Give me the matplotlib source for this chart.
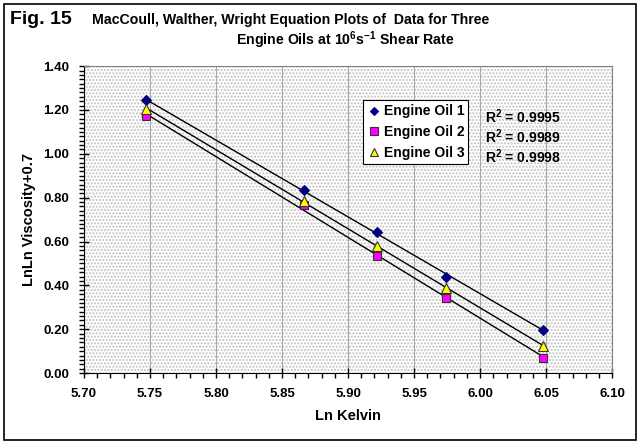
import numpy as np
import matplotlib
matplotlib.use('Agg')
import matplotlib.pyplot as plt
from matplotlib.patches import Rectangle
from matplotlib.ticker import MultipleLocator, FormatStrFormatter

plt.rcParams['font.family'] = ['Liberation Sans', 'DejaVu Sans']
plt.rcParams['mathtext.fontset'] = 'custom'
plt.rcParams['mathtext.rm'] = 'Liberation Sans'
plt.rcParams['mathtext.bf'] = 'Liberation Sans:bold'
plt.rcParams['hatch.linewidth'] = 1.0

# Ln of temperature in Kelvin (40, 80, 100, 120, 150 C)
ln_kelvin = [5.7467, 5.8669, 5.9220, 5.9742, 6.0476]
oil1 = [1.245, 0.835, 0.643, 0.440, 0.198]
oil2 = [1.172, 0.765, 0.532, 0.344, 0.070]
oil3 = [1.205, 0.787, 0.580, 0.389, 0.123]
oil_names = ['Engine Oil 1', 'Engine Oil 2', 'Engine Oil 3']
r2_labels = ['0.9995', '0.9989', '0.9998']

fig = plt.figure(figsize=(6.41, 4.41), dpi=100)
ax = fig.add_axes([0.131, 0.154, 0.824, 0.696])

# dotted grey plot area
ax.set_facecolor('white')
ax.add_patch(Rectangle((0, 0), 1, 1, transform=ax.transAxes, facecolor='white',
                       edgecolor='#c0c0c0', hatch='.....', linewidth=0, zorder=0))

x = np.array(ln_kelvin)
styles = [
    dict(marker='D', color='#000080', mec='#000080', ms=5),
    dict(marker='s', color='#ff00ff', mec='#333333', ms=6),
    dict(marker='^', color='#ffff00', mec='#333333', ms=7),
]
for ys, name, st in zip([oil1, oil2, oil3], oil_names, styles):
    ys = np.array(ys)
    # linear trend line, as in the spreadsheet
    slope, icpt = np.polyfit(x, ys, 1)
    ax.plot([x[0], x[-1]], [slope * x[0] + icpt, slope * x[-1] + icpt],
            color='black', lw=1.0, zorder=2)
    ax.plot(x, ys, linestyle='none', marker=st['marker'], mfc=st['color'],
            mec=st['mec'], mew=0.8, ms=st['ms'], label=name, zorder=3)

ax.set_xlim(5.70, 6.10)
ax.set_ylim(0.0, 1.40)
ax.xaxis.set_major_locator(MultipleLocator(0.05))
ax.xaxis.set_minor_locator(MultipleLocator(0.01))
ax.yaxis.set_major_locator(MultipleLocator(0.20))
ax.yaxis.set_minor_locator(MultipleLocator(0.02))
ax.xaxis.set_major_formatter(FormatStrFormatter('%.2f'))
ax.yaxis.set_major_formatter(FormatStrFormatter('%.2f'))
ax.tick_params(which='major', direction='inout', length=7, width=1, labelsize=9.5)
ax.tick_params(axis='x', which='major', pad=7)
ax.tick_params(axis='y', which='major', pad=7)
ax.tick_params(which='minor', direction='out', length=3.5, width=1)
for lab in ax.get_xticklabels() + ax.get_yticklabels():
    lab.set_fontweight('bold')
ax.xaxis.grid(True, which='major', color='#a8a8a8', lw=0.8)
ax.set_axisbelow(True)

for s in ['left', 'bottom']:
    ax.spines[s].set_color('black')
for s in ['top', 'right']:
    ax.spines[s].set_color('#808080')

ax.set_xlabel('Ln Kelvin', fontsize=10.5, fontweight='bold', labelpad=7)
ax.set_ylabel('LnLn Viscosity+0.7', fontsize=10.5, fontweight='bold', labelpad=5)

leg = ax.legend(loc='upper left', bbox_to_anchor=(0.528, 0.889), fancybox=False,
                edgecolor='black', framealpha=1, prop={'weight': 'bold', 'size': 10},
                handletextpad=0.2, handlelength=1.0, borderpad=0.3, labelspacing=0.5,
                borderaxespad=0, markerscale=0.85)
leg.get_frame().set_linewidth(0.8)

for i, r2 in enumerate(r2_labels):
    fig.text(485 / 641, 1 - (117 + 20 * i) / 441, f'R$^{{\\mathbf{{2}}}}$ = {r2}',
             fontsize=10, fontweight='bold', va='center', ha='left')

fig.text(10 / 641, 1 - 20 / 441, 'Fig. 15', fontsize=14, fontweight='bold',
         va='center', ha='left')
fig.text(92 / 641, 1 - 20 / 441, 'MacCoull, Walther, Wright Equation Plots of  Data for Three',
         fontsize=10.2, fontweight='bold', va='center', ha='left')
fig.text(345 / 641, 1 - 40 / 441, r'Engine Oils at 10$^{\mathbf{6}}$s$^{\mathbf{-1}}$ Shear Rate',
         fontsize=10.2, fontweight='bold', va='center', ha='center')

# outer chart frame
fig.patches.append(Rectangle((4 / 641, 1 / 441), 632 / 641, 436 / 441, transform=fig.transFigure,
                             fill=False, edgecolor='black', lw=1.2))

fig.savefig('out.png', dpi=100)
